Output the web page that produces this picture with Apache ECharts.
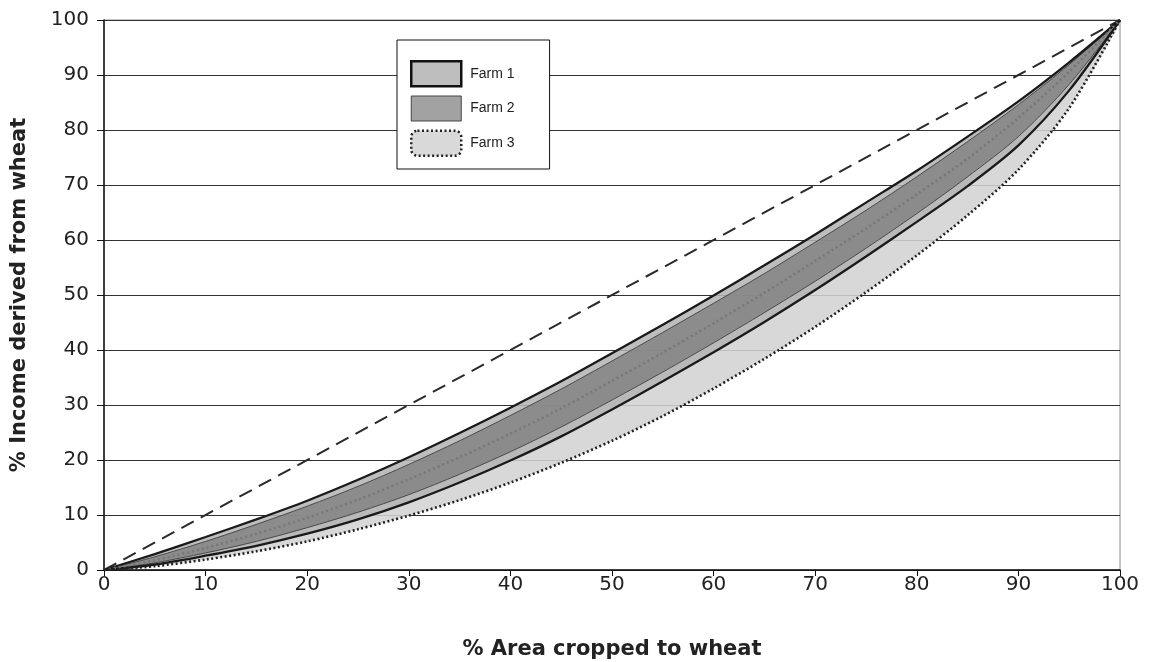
<!DOCTYPE html>
<html>
<head>
<meta charset="utf-8">
<title>Income vs area cropped to wheat</title>
<script src="https://cdn.jsdelivr.net/npm/echarts@6/dist/echarts.min.js"></script>
<style>
  html, body { margin: 0; padding: 0; background: #fff; }
  #chart { width: 1154px; height: 662px; }
</style>
</head>
<body>
<div id="chart"></div>
<script>
// % area cropped to wheat (x)
const areaPct = [0, 5, 10, 15, 20, 25, 30, 35, 40, 45, 50, 55, 60, 65, 70, 75, 80, 85, 90, 95, 100]

// % income derived from wheat
const farm1Upper = [0, 2.9, 6, 9.2, 12.6, 16.4, 20.5, 24.9, 29.5, 34.3, 39.4, 44.6, 49.9, 55.4, 61, 66.8, 72.6, 78.8, 85.2, 92.3, 100]
const farm1Lower = [0, 1, 2.6, 4.4, 6.6, 9.2, 12.3, 15.9, 19.9, 24.3, 29.2, 34.3, 39.6, 45.1, 50.9, 57, 63.3, 69.8, 77.2, 87.2, 100]
const farm2Upper = [0, 2.4, 5.2, 8.3, 11.6, 15.2, 19.2, 23.5, 28.1, 32.9, 38, 43.2, 48.5, 53.9, 59.6, 65.4, 71.5, 77.9, 84.6, 91.9, 100]
const farm2Lower = [0, 1.3, 3.1, 5.2, 7.7, 10.5, 13.7, 17.4, 21.5, 26, 30.9, 36, 41.3, 46.8, 52.5, 58.5, 64.8, 71.5, 78.8, 88.3, 100]
const farm3Upper = [0, 1.8, 4, 6.6, 9.5, 12.8, 16.5, 20.5, 24.8, 29.4, 34.4, 39.5, 44.9, 50.4, 56.2, 62.1, 68.3, 74.8, 82.2, 90.6, 100]
const farm3Lower = [0, 0.7, 1.9, 3.4, 5.2, 7.4, 9.9, 12.7, 15.9, 19.5, 23.5, 28, 33, 38.4, 44.2, 50.5, 57.2, 64.5, 72.8, 84, 100]

// line of equality
const equalityX = [0, 100]
const equalityY = [0, 100]

const xTicks = [0, 10, 20, 30, 40, 50, 60, 70, 80, 90, 100]
const yTicks = [0, 10, 20, 30, 40, 50, 60, 70, 80, 90, 100]

const FONT = 'DejaVu Sans, Arial, sans-serif'
const SMOOTH = 0.3

const pairs = (xs, ys) => xs.map((x, i) => [x, ys[i]])

// shaded band between two curves, drawn as one polygon through the axes
function band(name, lower, upper, fill) {
	return {
		name,
		type: 'custom',
		data: [[areaPct[0], lower[0]]],
		silent: true,
		itemStyle: { color: fill },
		renderItem: (params, api) => {
			const points = []
			for (let i = 0; i < areaPct.length; i++) {
				points.push(api.coord([areaPct[i], upper[i]]))
			}
			for (let i = areaPct.length - 2; i > 0; i--) {
				points.push(api.coord([areaPct[i], lower[i]]))
			}
			return {
				type: 'polygon',
				shape: { points, smooth: SMOOTH },
				style: { fill, stroke: null }
			}
		}
	}
}

function outline(ys, color, width, type) {
	return {
		type: 'line',
		data: pairs(areaPct, ys),
		smooth: SMOOTH,
		showSymbol: false,
		lineStyle: { color, width, type },
		silent: true
	}
}

const chart = echarts.init(document.getElementById('chart'))

chart.setOption({
	animation: false,
	backgroundColor: '#fff',
	grid: {
		left: 104,
		right: 34,
		top: 20,
		bottom: 92,
		outerBoundsMode: 'none',
		containLabel: false,
		show: true,
		borderColor: '#8a8a8a',
		borderWidth: 1
	},
	legend: {
		orient: 'vertical',
		left: 397,
		top: 40,
		padding: [20, 35, 12, 13],
		itemWidth: 50,
		itemHeight: 25,
		itemGap: 8,
		backgroundColor: '#fff',
		borderColor: '#111',
		borderWidth: 1,
		borderRadius: 0,
		selectedMode: false,
		textStyle: { fontFamily: 'Liberation Sans, Arial', fontSize: 14, color: '#222', padding: [0, 0, 0, 4] },
		data: [
			{ name: 'Farm 1', icon: 'rect', itemStyle: { color: '#bebebe', borderColor: '#111', borderWidth: 2.5 } },
			{ name: 'Farm 2', icon: 'rect', itemStyle: { color: '#a2a2a2', borderColor: '#444', borderWidth: 1 } },
			{ name: 'Farm 3', icon: 'roundRect', itemStyle: { color: '#d9d9d9', borderColor: '#222', borderWidth: 2.5, borderType: [2, 2.5] } }
		]
	},
	xAxis: {
		type: 'value',
		min: xTicks[0],
		max: xTicks[xTicks.length - 1],
		interval: 10,
		name: '% Area cropped to wheat',
		nameLocation: 'middle',
		nameGap: 69,
		nameTextStyle: { fontFamily: FONT, fontSize: 21, fontWeight: 'bold', color: '#222' },
		axisLine: { lineStyle: { color: '#111', width: 1.5 } },
		axisTick: { length: 6, lineStyle: { color: '#111' } },
		axisLabel: { margin: 5, fontFamily: FONT, fontSize: 20, color: '#222' },
		splitLine: { show: false }
	},
	yAxis: {
		type: 'value',
		min: yTicks[0],
		max: yTicks[yTicks.length - 1],
		interval: 10,
		name: '% Income derived from wheat',
		nameLocation: 'middle',
		nameGap: 74,
		nameTextStyle: { fontFamily: FONT, fontSize: 21, fontWeight: 'bold', color: '#222' },
		axisLine: { show: true, lineStyle: { color: '#111', width: 1.5 } },
		axisTick: { show: true, length: 7, lineStyle: { color: '#111' } },
		axisLabel: { margin: 15, fontFamily: FONT, fontSize: 20, color: '#222' },
		splitLine: { lineStyle: { color: '#333', width: 1 } }
	},
	series: [
		band('Farm 3', farm3Lower, farm3Upper, 'rgba(210,210,210,0.87)'),
		band('Farm 1', farm1Lower, farm1Upper, 'rgba(180,180,180,0.87)'),
		band('Farm 2', farm2Lower, farm2Upper, 'rgba(132,132,132,0.87)'),
		{
			type: 'line',
			data: pairs(equalityX, equalityY),
			showSymbol: false,
			lineStyle: { color: '#2a2a2a', width: 2, type: [14, 8] },
			silent: true
		},
		outline(farm2Upper, '#4a4a4a', 1, 'solid'),
		outline(farm2Lower, '#4a4a4a', 1, 'solid'),
		outline(farm1Upper, '#1a1a1a', 2.3, 'solid'),
		outline(farm1Lower, '#1a1a1a', 2.3, 'solid'),
		outline(farm3Upper, '#777', 2.5, [2, 3]),
		outline(farm3Lower, '#222', 2.6, [2, 2.5])
	]
})
</script>
</body>
</html>
